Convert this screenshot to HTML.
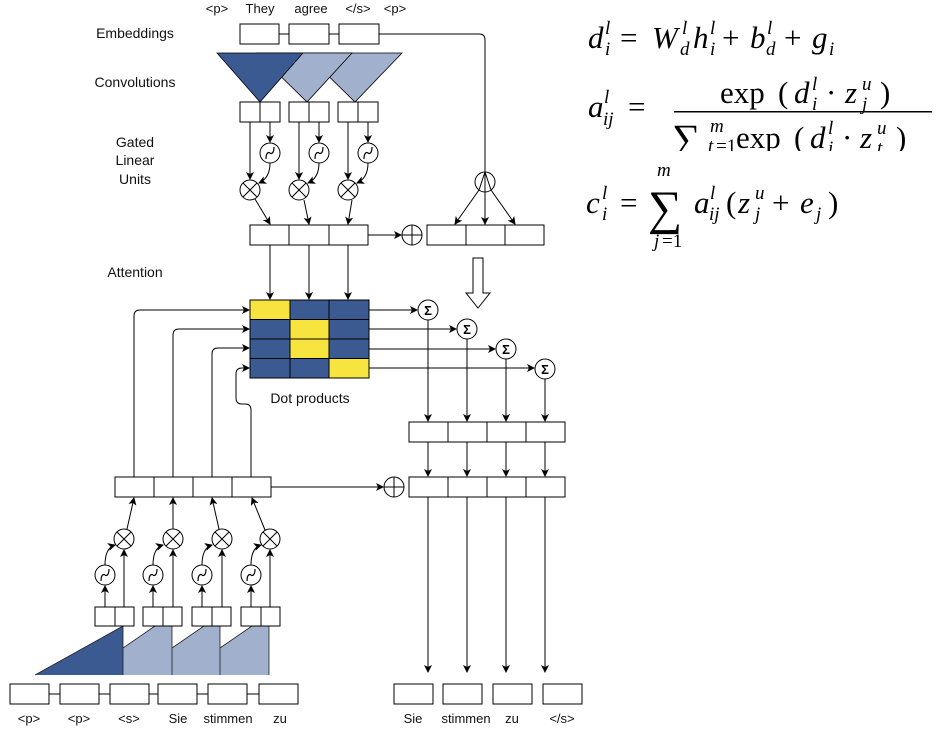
<!DOCTYPE html>
<html><head><meta charset="utf-8"><style>
html,body{margin:0;padding:0;background:#fff;}
svg{display:block;}
.t{font-family:"Liberation Sans",sans-serif;font-size:14px;fill:#111;}
.s{font-family:"Liberation Sans",sans-serif;font-size:13px;fill:#111;}
.m{font-family:"Liberation Serif",serif;fill:#000;}
</style></head><body>
<svg width="937" height="731" viewBox="0 0 937 731" xmlns="http://www.w3.org/2000/svg">
<defs>
<marker id="a" markerWidth="8" markerHeight="8" refX="7" refY="4" orient="auto" markerUnits="userSpaceOnUse">
<path d="M0,0 L8,4 L0,8 L2,4 z" fill="#000"/></marker>
<g id="sig"><circle r="10" fill="#fff" stroke="#000" stroke-width="1"/><path d="M-4,6 C-4,-1 -1,-1 0,0 C1,1 4,1 4,-6" fill="none" stroke="#000" stroke-width="1.2"/></g>
<g id="mul"><circle r="10" fill="#fff" stroke="#000"/><path d="M-7,-7 L7,7 M7,-7 L-7,7" stroke="#000"/></g>
<g id="add"><circle r="10" fill="#fff" stroke="#000"/><path d="M-10,0 L10,0 M0,-10 L0,10" stroke="#000"/></g>
<g id="sum"><circle r="10" fill="#fff" stroke="#000"/><text x="0" y="5" text-anchor="middle" font-family="Liberation Sans,sans-serif" font-size="13" font-weight="bold">Σ</text></g>
</defs>

<text class="t" x="135" y="38" text-anchor="middle">Embeddings</text>
<text class="t" x="135" y="87" text-anchor="middle">Convolutions</text>
<text class="t" x="135" y="147" text-anchor="middle">Gated</text>
<text class="t" x="135" y="165" text-anchor="middle">Linear</text>
<text class="t" x="135" y="184" text-anchor="middle">Units</text>
<text class="t" x="135" y="277" text-anchor="middle">Attention</text>

<text class="s" x="217" y="13" text-anchor="middle">&lt;p&gt;</text>
<text class="s" x="260" y="13" text-anchor="middle">They</text>
<text class="s" x="311" y="13" text-anchor="middle">agree</text>
<text class="s" x="358" y="13" text-anchor="middle">&lt;/s&gt;</text>
<text class="s" x="395" y="13" text-anchor="middle">&lt;p&gt;</text>

<g fill="#fff" stroke="#000" stroke-width="1">
<path d="M279,34 H289 M329,34 H339" fill="none"/>
<rect x="240" y="24" width="39" height="20"/>
<rect x="289" y="24" width="40" height="20"/>
<rect x="339" y="24" width="40" height="20"/>
<path d="M379,34 H479 Q485,34 485,40 V191" fill="none"/>
</g>

<polygon points="305,53 402,53 355,102" fill="#a0b0cd" stroke="#000" stroke-width="0.8"/>
<polygon points="257,53 352,53 307,102" fill="#a0b0cd" stroke="#000" stroke-width="0.8"/>
<polygon points="217,53 303,53 260,102" fill="#3b5a91" stroke="#000" stroke-width="0.8"/>

<g fill="#fff" stroke="#000">
<rect x="240" y="102" width="20" height="20"/><rect x="260" y="102" width="20" height="20"/>
<rect x="289" y="102" width="20" height="20"/><rect x="309" y="102" width="20" height="20"/>
<rect x="338" y="102" width="20" height="20"/><rect x="358" y="102" width="20" height="20"/>
</g>

<g fill="none" stroke="#000" marker-end="url(#a)">
<path d="M250,122 V179"/><path d="M270,122 V142"/>
<path d="M299,122 V179"/><path d="M319,122 V142"/>
<path d="M348,122 V179"/><path d="M368,122 V142"/>
<path d="M270,163 Q270,178 259,183"/>
<path d="M319,163 Q319,178 308,183"/>
<path d="M368,163 Q368,178 357,183"/>
<path d="M255,199 L270,224"/>
<path d="M304,200 L309,224"/>
<path d="M352,200 L348,224"/>
<path d="M368,235 H401"/>
<path d="M479,190 L455,224"/>
<path d="M485,192 V224"/>
<path d="M491,190 L515,224"/>
<path d="M270,245 V299"/><path d="M309,245 V299"/><path d="M348,245 V299"/>
</g>
<use href="#sig" x="270" y="153"/><use href="#sig" x="319" y="153"/><use href="#sig" x="368" y="153"/>
<use href="#mul" x="250" y="190"/><use href="#mul" x="299" y="190"/><use href="#mul" x="348" y="190"/>
<circle cx="485" cy="182" r="10" fill="#fff" stroke="#000"/>
<path d="M485,172 V192 M485,172 L479,190 M485,172 L491,190" stroke="#000" fill="none"/>
<use href="#add" x="412" y="235"/>

<g fill="#fff" stroke="#000">
<rect x="250" y="225" width="39" height="20"/><rect x="289" y="225" width="40" height="20"/><rect x="329" y="225" width="39" height="20"/>
<rect x="427" y="225" width="39" height="20"/><rect x="466" y="225" width="39" height="20"/><rect x="505" y="225" width="39" height="20"/>
</g>

<path d="M473,258 H483 V293 H490 L478,308 L466,293 H473 Z" fill="#fff" stroke="#000"/>

<g stroke="#000" stroke-width="1">
<rect x="250" y="300" width="40" height="19.5" fill="#f7e43e"/>
<rect x="290" y="300" width="39" height="19.5" fill="#3b5a91"/>
<rect x="329" y="300" width="40" height="19.5" fill="#3b5a91"/>
<rect x="250" y="319.5" width="40" height="19.5" fill="#3b5a91"/>
<rect x="290" y="319.5" width="39" height="19.5" fill="#f7e43e"/>
<rect x="329" y="319.5" width="40" height="19.5" fill="#3b5a91"/>
<rect x="250" y="339" width="40" height="19.5" fill="#3b5a91"/>
<rect x="290" y="339" width="39" height="19.5" fill="#f7e43e"/>
<rect x="329" y="339" width="40" height="19.5" fill="#3b5a91"/>
<rect x="250" y="358.5" width="40" height="19.5" fill="#3b5a91"/>
<rect x="290" y="358.5" width="39" height="19.5" fill="#3b5a91"/>
<rect x="329" y="358.5" width="40" height="19.5" fill="#f7e43e"/>
</g>
<text class="t" x="310" y="403" text-anchor="middle">Dot products</text>

<g fill="none" stroke="#000" marker-end="url(#a)">
<path d="M369,310 H417"/><path d="M369,329 H456"/><path d="M369,349 H495"/><path d="M369,368 H534"/>
<path d="M428,320 V421"/><path d="M467,339 V421"/><path d="M506,359 V421"/><path d="M545,379 V421"/>
<path d="M428,442 V476"/><path d="M467,442 V476"/><path d="M506,442 V476"/><path d="M545,442 V476"/>
<path d="M428,497 V672"/><path d="M467,497 V672"/><path d="M506,497 V672"/><path d="M545,497 V672"/>
<path d="M271,487 H383"/>
<path d="M134,477 V316 Q134,310 140,310 H249"/>
<path d="M173,477 V335 Q173,329 179,329 H249"/>
<path d="M212,477 V354 Q212,348 218,348 H249"/>
<path d="M251,477 V410 Q251,404 245,404 H242 Q236,404 236,398 V374 Q236,368 242,368 H249"/>
</g>
<use href="#sum" x="428" y="310"/><use href="#sum" x="467" y="329"/><use href="#sum" x="506" y="349"/><use href="#sum" x="545" y="369"/>
<use href="#add" x="394" y="487"/>
<g fill="#fff" stroke="#000">
<rect x="409" y="422" width="39" height="20"/><rect x="448" y="422" width="39" height="20"/><rect x="487" y="422" width="39" height="20"/><rect x="526" y="422" width="39" height="20"/>
<rect x="409" y="477" width="39" height="20"/><rect x="448" y="477" width="39" height="20"/><rect x="487" y="477" width="39" height="20"/><rect x="526" y="477" width="39" height="20"/>
<rect x="115" y="477" width="39" height="20"/><rect x="154" y="477" width="39" height="20"/><rect x="193" y="477" width="39" height="20"/><rect x="232" y="477" width="39" height="20"/>
</g>

<polygon points="123,675 123,648 155,626 172,626 172,675" fill="#a0b0cd"/>
<polygon points="172,675 172,648 204,626 220,626 220,675" fill="#a0b0cd"/>
<polygon points="220,675 220,648 252,626 269,626 269,675" fill="#a0b0cd"/>
<polygon points="35,675 123,626 123,675" fill="#3b5a91"/>
<path d="M123,626 V675 M172,626 V675 M220,626 V675 M269,626 V675 M123,648 L155,626 M172,648 L204,626 M220,648 L252,626 M35,675 L123,626" stroke="#222" stroke-width="0.8" fill="none"/>

<g fill="#fff" stroke="#000">
<rect x="95" y="607" width="20" height="19"/><rect x="115" y="607" width="19" height="19"/>
<rect x="143" y="607" width="20" height="19"/><rect x="163" y="607" width="19" height="19"/>
<rect x="192" y="607" width="20" height="19"/><rect x="212" y="607" width="19" height="19"/>
<rect x="241" y="607" width="20" height="19"/><rect x="261" y="607" width="19" height="19"/>
</g>
<g fill="none" stroke="#000" marker-end="url(#a)">
<path d="M105,607 V586"/><path d="M124,607 V550"/>
<path d="M153,607 V586"/><path d="M173,607 V550"/>
<path d="M202,607 V586"/><path d="M222,607 V550"/>
<path d="M251,607 V586"/><path d="M270,607 V550"/>
<path d="M105,565 Q105,548 115,545"/>
<path d="M153,565 Q153,548 163,545"/>
<path d="M202,565 Q202,548 212,545"/>
<path d="M251,565 Q251,548 261,545"/>
<path d="M127,529 L134,498"/>
<path d="M173,529 V498"/>
<path d="M219,529 L212,498"/>
<path d="M265,530 L252,498"/>
</g>
<use href="#sig" x="105" y="575"/><use href="#sig" x="153" y="575"/><use href="#sig" x="202" y="575"/><use href="#sig" x="251" y="575"/>
<use href="#mul" x="124" y="539"/><use href="#mul" x="173" y="539"/><use href="#mul" x="222" y="539"/><use href="#mul" x="270" y="539"/>

<g fill="#fff" stroke="#000">
<path d="M49,694 H298" fill="none"/>
<rect x="10" y="684" width="39" height="20"/><rect x="60" y="684" width="39" height="20"/><rect x="110" y="684" width="39" height="20"/>
<rect x="158" y="684" width="39" height="20"/><rect x="208" y="684" width="39" height="20"/><rect x="259" y="684" width="39" height="20"/>
<rect x="394" y="684" width="39" height="20"/><rect x="443" y="684" width="39" height="20"/><rect x="493" y="684" width="39" height="20"/><rect x="543" y="684" width="39" height="20"/>
</g>
<text class="s" x="29" y="723" text-anchor="middle">&lt;p&gt;</text>
<text class="s" x="79" y="723" text-anchor="middle">&lt;p&gt;</text>
<text class="s" x="129" y="723" text-anchor="middle">&lt;s&gt;</text>
<text class="s" x="178" y="723" text-anchor="middle">Sie</text>
<text class="s" x="228" y="723" text-anchor="middle">stimmen</text>
<text class="s" x="280" y="723" text-anchor="middle">zu</text>
<text class="s" x="413" y="723" text-anchor="middle">Sie</text>
<text class="s" x="466" y="723" text-anchor="middle">stimmen</text>
<text class="s" x="512" y="723" text-anchor="middle">zu</text>
<text class="s" x="562" y="723" text-anchor="middle">&lt;/s&gt;</text>

<!-- formulas -->
<g class="m" font-size="31">
<text x="588" y="48" font-style="italic">d</text>
<text x="605" y="34" font-size="19" font-style="italic">l</text>
<text x="605" y="55" font-size="19" font-style="italic">i</text>
<text x="620" y="48">=</text>
<text x="652" y="48" font-style="italic">W</text>
<text x="682" y="34" font-size="19" font-style="italic">l</text>
<text x="680" y="55" font-size="19" font-style="italic">d</text>
<text x="693" y="48" font-style="italic">h</text>
<text x="710" y="34" font-size="19" font-style="italic">l</text>
<text x="710" y="55" font-size="19" font-style="italic">i</text>
<text x="722" y="48">+</text>
<text x="750" y="48" font-style="italic">b</text>
<text x="767" y="34" font-size="19" font-style="italic">l</text>
<text x="766" y="55" font-size="19" font-style="italic">d</text>
<text x="784" y="48">+</text>
<text x="812" y="48" font-style="italic">g</text>
<text x="829" y="55" font-size="19" font-style="italic">i</text>

<text x="588" y="117" font-style="italic">a</text>
<text x="604" y="103" font-size="19" font-style="italic">l</text>
<text x="603" y="125" font-size="19" font-style="italic">ij</text>
<text x="628" y="117">=</text>
<text x="720" y="103">exp</text>
<text x="778" y="103">(</text>
<text x="794" y="103" font-style="italic">d</text>
<text x="812" y="90" font-size="19" font-style="italic">l</text>
<text x="812" y="110" font-size="19" font-style="italic">i</text>
<text x="826" y="103">·</text>
<text x="845" y="103" font-style="italic">z</text>
<text x="862" y="90" font-size="19" font-style="italic">u</text>
<text x="862" y="110" font-size="19" font-style="italic">j</text>
<text x="880" y="103">)</text>
<text x="672" y="152" font-size="40">∑</text>
<text x="710" y="132" font-size="19" font-style="italic">m</text>
<text x="708" y="152" font-size="19" font-style="italic">t</text><text x="716" y="152" font-size="19">=1</text>
<text x="736" y="148">exp</text>
<text x="794" y="148">(</text>
<text x="810" y="148" font-style="italic">d</text>
<text x="828" y="134" font-size="19" font-style="italic">l</text>
<text x="828" y="154" font-size="19" font-style="italic">i</text>
<text x="842" y="148">·</text>
<text x="860" y="148" font-style="italic">z</text>
<text x="877" y="134" font-size="19" font-style="italic">u</text>
<text x="877" y="154" font-size="19" font-style="italic">t</text>
<text x="896" y="148">)</text>
</g>
<rect x="674" y="111" width="258" height="1.5" fill="#000"/>
<rect x="640" y="151" width="297" height="22" fill="#fff"/>
<g class="m" font-size="31">
<text x="657" y="176" font-size="19" font-style="italic">m</text>
<text x="586" y="213" font-style="italic">c</text>
<text x="602" y="199" font-size="19" font-style="italic">l</text>
<text x="602" y="220" font-size="19" font-style="italic">i</text>
<text x="620" y="213">=</text>
<text x="648" y="224" font-size="48">∑</text>
<text x="654" y="247" font-size="19" font-style="italic">j</text><text x="662" y="247" font-size="19">=1</text>
<text x="694" y="213" font-style="italic">a</text>
<text x="710" y="199" font-size="19" font-style="italic">l</text>
<text x="709" y="220" font-size="19" font-style="italic">ij</text>
<text x="726" y="213">(</text>
<text x="738" y="213" font-style="italic">z</text>
<text x="755" y="199" font-size="19" font-style="italic">u</text>
<text x="755" y="220" font-size="19" font-style="italic">j</text>
<text x="772" y="213">+</text>
<text x="800" y="213" font-style="italic">e</text>
<text x="816" y="220" font-size="19" font-style="italic">j</text>
<text x="828" y="213">)</text>
</g>
</svg>
</body></html>
